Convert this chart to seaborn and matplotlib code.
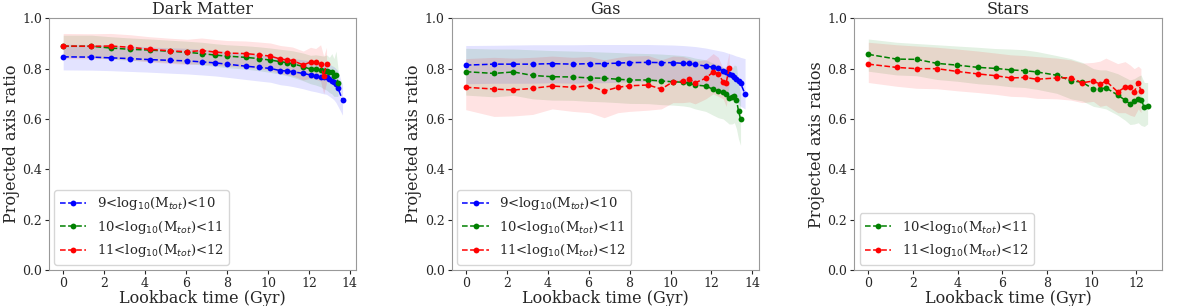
import numpy as np
import pandas as pd
import seaborn as sns
import matplotlib.pyplot as plt
from matplotlib.ticker import MultipleLocator

# lookback time grids (Gyr)
t_grid = [0.0, 1.38, 2.33, 3.27, 4.22, 5.23, 6.05, 6.76, 7.43, 7.98, 8.91, 9.55, 10.12, 10.61,
          10.92, 11.2, 11.72, 12.08, 12.33, 12.57, 12.72, 12.86, 13.0, 13.12, 13.22, 13.32, 13.42, 13.64]
t_stars = [0.0, 1.27, 2.16, 3.08, 3.98, 4.92, 5.71, 6.38, 7.0, 7.55, 8.44, 9.07, 9.58, 10.08,
           10.38, 10.64, 11.17, 11.5, 11.72, 11.91, 12.09, 12.21, 12.36, 12.51]

labels = [r'9<log$_{10}$(M$_{tot}$)<10', r'10<log$_{10}$(M$_{tot}$)<11', r'11<log$_{10}$(M$_{tot}$)<12']
colors = ['blue', 'green', 'red']

# Dark matter: median and 1-sigma band per mass bin
dm_9 = [0.847, 0.846, 0.843, 0.840, 0.836, 0.833, 0.831, 0.827, 0.823, 0.818, 0.810, 0.805, 0.801, 0.792,
        0.791, 0.788, 0.781, 0.775, 0.772, 0.768, 0.767, 0.766, 0.758, 0.752, 0.748, 0.738, 0.722, 0.675]
dm_9_lo = [0.795, 0.794, 0.792, 0.789, 0.786, 0.782, 0.779, 0.775, 0.771, 0.766, 0.757, 0.751, 0.746, 0.736,
           0.733, 0.729, 0.720, 0.712, 0.708, 0.703, 0.700, 0.698, 0.690, 0.683, 0.676, 0.665, 0.650, 0.615]
dm_9_hi = [0.897, 0.896, 0.893, 0.890, 0.886, 0.883, 0.881, 0.877, 0.873, 0.868, 0.860, 0.855, 0.851, 0.843,
           0.842, 0.840, 0.835, 0.830, 0.828, 0.825, 0.825, 0.825, 0.818, 0.812, 0.808, 0.800, 0.790, 0.735]
dm_10 = [0.889, 0.889, 0.882, 0.877, 0.874, 0.869, 0.865, 0.860, 0.854, 0.850, 0.845, 0.840, 0.834, 0.828,
         0.824, 0.820, 0.808, 0.798, 0.798, 0.795, 0.790, 0.790, 0.785, 0.788, 0.770, 0.775, 0.745]
dm_10_lo = [0.845, 0.845, 0.838, 0.833, 0.830, 0.825, 0.820, 0.815, 0.809, 0.804, 0.798, 0.792, 0.785, 0.778,
            0.772, 0.766, 0.752, 0.740, 0.735, 0.728, 0.720, 0.715, 0.705, 0.700, 0.690, 0.690, 0.690]
dm_10_hi = [0.933, 0.933, 0.927, 0.922, 0.918, 0.913, 0.909, 0.905, 0.899, 0.895, 0.891, 0.887, 0.882, 0.877,
            0.874, 0.871, 0.862, 0.853, 0.855, 0.852, 0.850, 0.855, 0.845, 0.860, 0.840, 0.870, 0.800]
dm_11 = [0.890, 0.889, 0.890, 0.885, 0.877, 0.871, 0.867, 0.872, 0.866, 0.862, 0.860, 0.855, 0.850, 0.838,
         0.835, 0.832, 0.815, 0.826, 0.825, 0.820, 0.771, 0.820]
dm_11_lo = [0.840, 0.839, 0.840, 0.835, 0.827, 0.821, 0.817, 0.820, 0.814, 0.810, 0.806, 0.800, 0.793, 0.780,
            0.776, 0.772, 0.755, 0.762, 0.758, 0.750, 0.700, 0.745]
dm_11_hi = [0.940, 0.939, 0.940, 0.935, 0.927, 0.921, 0.917, 0.922, 0.916, 0.912, 0.910, 0.906, 0.902, 0.892,
            0.889, 0.886, 0.870, 0.885, 0.880, 0.895, 0.850, 0.885]

# Gas
gas_9 = [0.814, 0.818, 0.818, 0.818, 0.820, 0.818, 0.820, 0.820, 0.822, 0.824, 0.825, 0.824, 0.824, 0.821,
         0.821, 0.817, 0.810, 0.806, 0.801, 0.792, 0.788, 0.780, 0.774, 0.765, 0.758, 0.752, 0.742, 0.699]
gas_9_lo = [0.740, 0.742, 0.742, 0.742, 0.744, 0.742, 0.744, 0.744, 0.746, 0.748, 0.749, 0.748, 0.747, 0.744,
            0.742, 0.736, 0.728, 0.722, 0.716, 0.706, 0.700, 0.692, 0.685, 0.676, 0.668, 0.660, 0.650, 0.640]
gas_9_hi = [0.892, 0.893, 0.894, 0.895, 0.895, 0.895, 0.896, 0.896, 0.896, 0.896, 0.896, 0.895, 0.894, 0.892,
            0.890, 0.888, 0.882, 0.876, 0.872, 0.868, 0.864, 0.860, 0.857, 0.853, 0.850, 0.848, 0.845, 0.840]
gas_10 = [0.788, 0.781, 0.787, 0.773, 0.768, 0.767, 0.763, 0.762, 0.758, 0.755, 0.755, 0.751, 0.748, 0.746,
          0.742, 0.735, 0.731, 0.718, 0.711, 0.706, 0.699, 0.685, 0.689, 0.693, 0.675, 0.632, 0.600]
gas_10_lo = [0.695, 0.688, 0.694, 0.680, 0.675, 0.674, 0.670, 0.668, 0.665, 0.662, 0.661, 0.657, 0.655, 0.652,
             0.648, 0.640, 0.630, 0.615, 0.605, 0.600, 0.590, 0.580, 0.580, 0.585, 0.560, 0.520, 0.495]
gas_10_hi = [0.881, 0.878, 0.878, 0.875, 0.872, 0.870, 0.868, 0.866, 0.864, 0.862, 0.860, 0.858, 0.855, 0.852,
             0.848, 0.842, 0.835, 0.822, 0.815, 0.805, 0.795, 0.790, 0.800, 0.815, 0.810, 0.740, 0.700]
gas_11 = [0.726, 0.719, 0.715, 0.722, 0.731, 0.726, 0.732, 0.711, 0.726, 0.732, 0.735, 0.719, 0.748, 0.750,
          0.758, 0.744, 0.762, 0.787, 0.780, 0.748, 0.745, 0.801]
gas_11_lo = [0.637, 0.610, 0.612, 0.618, 0.640, 0.630, 0.625, 0.605, 0.625, 0.630, 0.635, 0.640, 0.665, 0.665,
             0.668, 0.660, 0.680, 0.700, 0.690, 0.680, 0.650, 0.730]
gas_11_hi = [0.840, 0.845, 0.842, 0.845, 0.850, 0.845, 0.848, 0.835, 0.845, 0.850, 0.852, 0.835, 0.850, 0.848,
             0.840, 0.830, 0.835, 0.860, 0.845, 0.800, 0.810, 0.865]

# Stars (no stars in the lowest mass bin)
st_10 = [0.857, 0.838, 0.837, 0.821, 0.814, 0.805, 0.801, 0.795, 0.792, 0.787, 0.774, 0.752, 0.746, 0.719,
         0.719, 0.724, 0.695, 0.675, 0.660, 0.671, 0.679, 0.675, 0.649, 0.653]
st_10_lo = [0.790, 0.775, 0.772, 0.757, 0.750, 0.740, 0.735, 0.728, 0.725, 0.718, 0.702, 0.680, 0.672, 0.650,
            0.645, 0.640, 0.615, 0.595, 0.578, 0.580, 0.585, 0.575, 0.570, 0.580]
st_10_hi = [0.918, 0.905, 0.900, 0.895, 0.890, 0.885, 0.880, 0.878, 0.875, 0.868, 0.852, 0.840, 0.825, 0.800,
            0.795, 0.795, 0.780, 0.765, 0.755, 0.760, 0.770, 0.775, 0.745, 0.745]
st_11 = [0.818, 0.805, 0.800, 0.800, 0.789, 0.779, 0.772, 0.763, 0.765, 0.758, 0.763, 0.764, 0.744, 0.751,
         0.738, 0.751, 0.708, 0.726, 0.726, 0.708, 0.744, 0.712]
st_11_lo = [0.745, 0.730, 0.722, 0.720, 0.712, 0.705, 0.698, 0.690, 0.688, 0.682, 0.680, 0.675, 0.665, 0.670,
            0.650, 0.655, 0.625, 0.625, 0.615, 0.610, 0.640, 0.625]
st_11_hi = [0.905, 0.895, 0.890, 0.885, 0.878, 0.870, 0.862, 0.855, 0.852, 0.848, 0.842, 0.835, 0.822, 0.825,
            0.830, 0.842, 0.820, 0.828, 0.815, 0.800, 0.810, 0.800]

sns.set_style('ticks', {'axes.edgecolor': '0.6'})
plt.rcParams['font.family'] = ['DejaVu Serif']

panels = [
    ('Dark Matter', 'Projected axis ratio', t_grid,
     [(dm_9, dm_9_lo, dm_9_hi, 0), (dm_10, dm_10_lo, dm_10_hi, 1), (dm_11, dm_11_lo, dm_11_hi, 2)]),
    ('Gas', 'Projected axis ratio', t_grid,
     [(gas_9, gas_9_lo, gas_9_hi, 0), (gas_10, gas_10_lo, gas_10_hi, 1), (gas_11, gas_11_lo, gas_11_hi, 2)]),
    ('Stars', 'Projected axis ratios', t_stars,
     [(st_10, st_10_lo, st_10_hi, 1), (st_11, st_11_lo, st_11_hi, 2)]),
]

fig, axs = plt.subplots(1, 3, figsize=(12, 3.06), dpi=100)
fig.subplots_adjust(left=0.041, right=0.968, bottom=0.118, top=0.94, wspace=0.31)

for ax, (title, ylab, t, series) in zip(axs, panels):
    for mean, lo, hi, k in series:
        tt = t[:len(mean)]
        df = pd.DataFrame({'t': tt, 'q': mean})
        ax.fill_between(tt, lo, hi, color=colors[k], alpha=0.11, lw=0)
        sns.lineplot(data=df, x='t', y='q', ax=ax, color=colors[k], linestyle='--', lw=1.1,
                     marker='o', markersize=4.2, markeredgecolor=colors[k], markeredgewidth=0,
                     label=labels[k])
    ax.set_ylim(0, 1)
    ax.set_yticks(np.arange(0, 1.01, 0.2))
    ax.xaxis.set_major_locator(MultipleLocator(2))
    ax.set_title(title, fontsize=11.5, pad=2)
    ax.set_xlabel('Lookback time (Gyr)', fontsize=11.5, labelpad=0)
    ax.set_ylabel(ylab, fontsize=11.5, labelpad=2)
    ax.tick_params(labelsize=9, length=3, pad=2)
    ax.legend(loc='lower left', fontsize=9.5, borderaxespad=0.4)

fig.savefig('out.png', dpi=100)
